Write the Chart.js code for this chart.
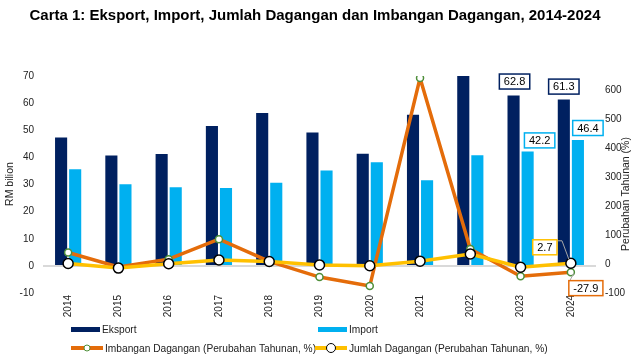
<!DOCTYPE html>
<html>
<head>
    <title>Carta 1</title>
    <script src="https://cdn.jsdelivr.net/npm/chart.js"></script>
    <style>
        body { margin: 0; background: #fff; font-family: "Liberation Sans", Arial, sans-serif; }
        #wrap { position: relative; width: 634px; height: 358px; }
        #title { position: absolute; left: 0; top: 6px; width: 630px; text-align: center;
                 font-weight: bold; font-size: 15px; color: #000; }
        .leg { position: absolute; font-size: 10.2px; color: #222; white-space: nowrap;
               display: flex; align-items: center; }
        .sw { position: relative; display: inline-block; margin-right: 2px; }
        .dot { position: absolute; top: 50%; left: 50%; border-radius: 50%; background: #fff;
               box-sizing: border-box; transform: translate(-50%, -50%); }
    </style>
</head>
<body>
<div id="wrap">
    <div id="title">Carta 1: Eksport, Import, Jumlah Dagangan dan Imbangan Dagangan, 2014-2024</div>
    <canvas id="tradeChart" width="634" height="358"></canvas>
    <div id="legend"></div>
</div>

<script>
    // Data (RM bilion, and annual change %)
    const years = ['2014', '2015', '2016', '2017', '2018', '2019', '2020', '2021', '2022', '2023', '2024'];
    const eksport = [47.3, 40.7, 41.2, 51.6, 56.4, 49.2, 41.3, 55.7, 70.0, 62.8, 61.3];
    const importVals = [35.6, 30.1, 29.0, 28.7, 30.6, 35.2, 38.2, 31.6, 40.8, 42.2, 46.4];
    const imbanganPct = [40, -10, 17, 86, 9, -45, -76, 643, 52, -42, -27.9];
    const jumlahPct = [2, -14, 1, 14, 9, -3, -6, 10, 35, -11, 2.7];
    const leftTicks = [-10, 0, 10, 20, 30, 40, 50, 60, 70];
    const rightTicks = [-100, 0, 100, 200, 300, 400, 500, 600];

    const NAVY = '#002060';
    const SKY = '#00B0F0';
    const ORANGE = '#E46C0A';
    const YELLOW = '#FFC000';
    const FONT = '"Liberation Sans", Arial, sans-serif';

    // boxed value labels: dataset index, point index, offset from the mark
    const boxLabels = [
        { ds: 0, i: 9, dx: 1, dy: -14, color: NAVY },
        { ds: 0, i: 10, dx: 0, dy: -13, color: NAVY },
        { ds: 1, i: 9, dx: 12, dy: -11, color: SKY },
        { ds: 1, i: 10, dx: 10, dy: -12, color: SKY },
        { ds: 3, i: 10, dx: -26, dy: -16, color: YELLOW, leader: true },
        { ds: 2, i: 10, dx: 15, dy: 16, color: ORANGE, leader: true }
    ];

    const extrasPlugin = {
        id: 'extras',
        afterDatasetsDraw(chart) {
            const ctx = chart.ctx;
            ctx.save();
            ctx.font = '11px ' + FONT;
            ctx.textAlign = 'center';
            ctx.textBaseline = 'middle';
            boxLabels.forEach(b => {
                const el = chart.getDatasetMeta(b.ds).data[b.i];
                const v = chart.data.datasets[b.ds].data[b.i];
                const txt = v.toFixed(1);
                const w = ctx.measureText(txt).width + 9;
                const h = 15;
                const cx = el.x + b.dx, cy = el.y + b.dy;
                if (b.leader) {
                    ctx.strokeStyle = '#a6a6a6';
                    ctx.lineWidth = 1;
                    ctx.beginPath();
                    if (b.dx < 0) {
                        ctx.moveTo(cx + w / 2, cy - h / 2 + 1);
                        ctx.lineTo(cx + w / 2 + 5, cy - h / 2 + 1);
                        ctx.lineTo(el.x - 2, el.y - 4);
                    } else {
                        ctx.moveTo(el.x + 3, el.y + 1);
                        ctx.lineTo(cx - w / 2 + 1, cy - h / 2);
                    }
                    ctx.stroke();
                }
                ctx.fillStyle = '#fff';
                ctx.fillRect(cx - w / 2, cy - h / 2, w, h);
                ctx.strokeStyle = b.color;
                ctx.lineWidth = 1.5;
                ctx.strokeRect(cx - w / 2, cy - h / 2, w, h);
                ctx.fillStyle = '#000';
                ctx.fillText(txt, cx, cy + 0.5);
            });
            ctx.restore();
        },
        afterDraw(chart) {
            const ctx = chart.ctx;
            ctx.save();
            ctx.font = '10.5px ' + FONT;
            ctx.fillStyle = '#222';
            ctx.textAlign = 'center';
            ctx.textBaseline = 'middle';
            ctx.translate(10, 184);
            ctx.rotate(-Math.PI / 2);
            ctx.fillText('RM bilion', 0, 0);
            ctx.restore();
            ctx.save();
            ctx.font = '10.5px ' + FONT;
            ctx.fillStyle = '#222';
            ctx.textAlign = 'center';
            ctx.textBaseline = 'middle';
            ctx.translate(626, 194);
            ctx.rotate(-Math.PI / 2);
            ctx.fillText('Perubahan Tahunan (%)', 0, 0);
            ctx.restore();
        }
    };

    const ctx = document.getElementById('tradeChart').getContext('2d');
    const chart = new Chart(ctx, {
        data: {
            labels: years,
            datasets: [
                {
                    type: 'bar', label: 'Eksport', data: eksport, yAxisID: 'y',
                    backgroundColor: NAVY, order: 3,
                    categoryPercentage: 0.56, barPercentage: 0.86
                },
                {
                    type: 'bar', label: 'Import', data: importVals, yAxisID: 'y',
                    backgroundColor: SKY, order: 3,
                    categoryPercentage: 0.56, barPercentage: 0.86
                },
                {
                    type: 'line', label: 'Imbangan Dagangan (Perubahan Tahunan, %)', data: imbanganPct,
                    yAxisID: 'y1', borderColor: ORANGE, borderWidth: 3.5, tension: 0,
                    pointRadius: 3.5, pointBackgroundColor: '#fff', pointBorderColor: '#4E8F3A',
                    pointBorderWidth: 1.5, order: 2
                },
                {
                    type: 'line', label: 'Jumlah Dagangan (Perubahan Tahunan, %)', data: jumlahPct,
                    yAxisID: 'y1', borderColor: YELLOW, borderWidth: 3.5, tension: 0,
                    pointRadius: 5, pointBackgroundColor: '#fff', pointBorderColor: '#000',
                    pointBorderWidth: 1.5, order: 1
                }
            ]
        },
        options: {
            responsive: false,
            animation: false,
            layout: { padding: { top: 76, left: 0, right: 0, bottom: 0 } },
            plugins: { legend: { display: false }, tooltip: { enabled: false } },
            scales: {
                x: {
                    grid: { display: false, drawTicks: false },
                    border: { display: false },
                    ticks: { color: '#222', font: { size: 10, family: FONT }, minRotation: 90, maxRotation: 90, padding: 2 },
                    afterFit(s) { s.height = 65; }
                },
                y: {
                    position: 'left', min: -10, max: 70,
                    border: { display: false },
                    grid: {
                        drawTicks: false, lineWidth: 2,
                        color: c => (c.tick && c.tick.value === 0 ? '#d9d9d9' : 'rgba(0,0,0,0)')
                    },
                    afterBuildTicks(s) { s.ticks = leftTicks.map(v => ({ value: v })); },
                    ticks: { color: '#222', font: { size: 10, family: FONT }, padding: 9 },
                    afterFit(s) { s.width = 43; }
                },
                y1: {
                    position: 'right', min: -100, max: 650,
                    border: { display: false },
                    grid: { display: false, drawTicks: false },
                    afterBuildTicks(s) { s.ticks = rightTicks.map(v => ({ value: v })); },
                    ticks: { color: '#222', font: { size: 10, family: FONT }, padding: 9 },
                    afterFit(s) { s.width = 38; }
                }
            }
        },
        plugins: [extrasPlugin]
    });

    // legend laid out in two rows like the source
    const legendPos = [[71, 329], [318, 329], [71, 348], [315, 348]];
    const legendEl = document.getElementById('legend');
    chart.data.datasets.forEach((ds, k) => {
        const item = document.createElement('div');
        item.className = 'leg';
        const sw = document.createElement('span');
        sw.className = 'sw';
        if (ds.type === 'bar') {
            sw.style.width = '29px'; sw.style.height = '5px'; sw.style.background = ds.backgroundColor;
        } else {
            sw.style.width = '32px'; sw.style.height = '3.5px'; sw.style.background = ds.borderColor;
            const dot = document.createElement('span');
            dot.className = 'dot';
            const d = ds.pointRadius * 2;
            dot.style.width = d + 'px'; dot.style.height = d + 'px';
            dot.style.border = ds.pointBorderWidth + 'px solid ' + ds.pointBorderColor;
            sw.appendChild(dot);
        }
        item.appendChild(sw);
        item.appendChild(document.createTextNode(ds.label));
        item.style.left = legendPos[k][0] + 'px';
        item.style.top = (legendPos[k][1] - 7) + 'px';
        item.style.height = '14px';
        legendEl.appendChild(item);
    });
</script>
</body>
</html>
